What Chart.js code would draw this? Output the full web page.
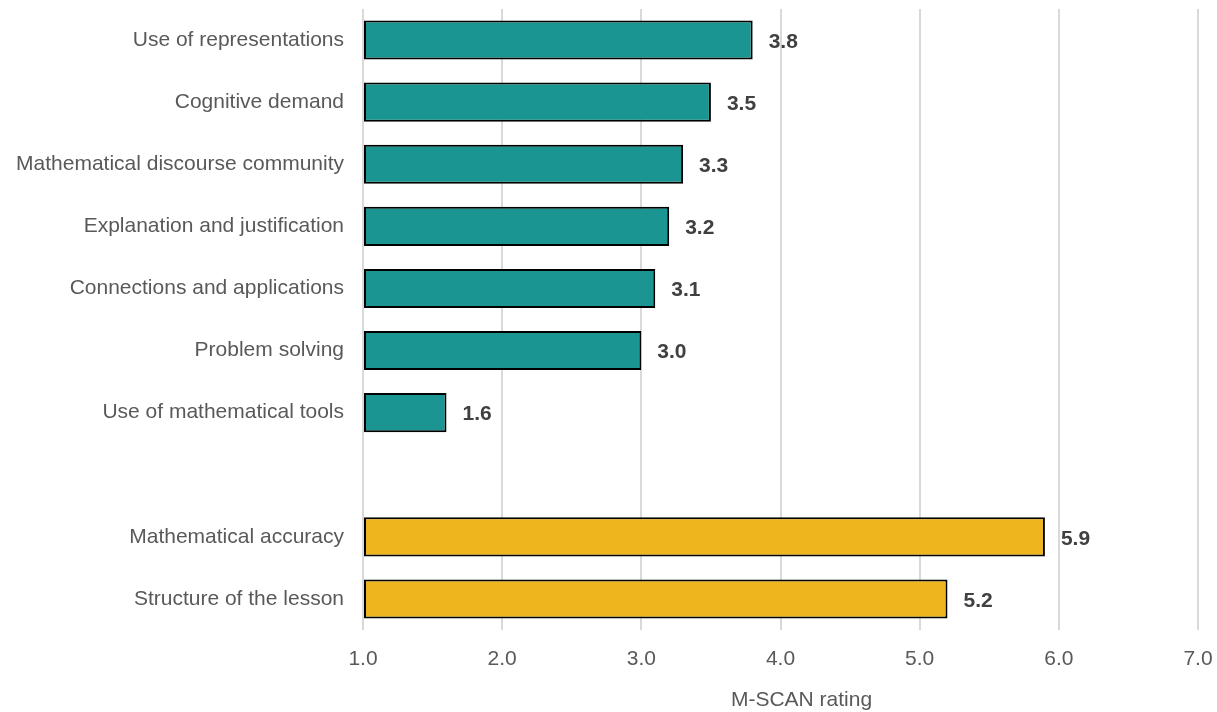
<!DOCTYPE html>
<html>
<head>
<meta charset="utf-8">
<script src="https://cdn.jsdelivr.net/npm/chart.js@4.4.1/dist/chart.umd.min.js"></script>
<style>
  html, body { margin: 0; padding: 0; background: #fff; }
  #wrap { width: 1217px; height: 712px; }
</style>
</head>
<body>
<div id="wrap"><canvas id="chart" width="1217" height="712"></canvas></div>
<script>
// rating dimensions, top to bottom; '' is the spacer row between the two groups
const categories = [
  'Use of representations',
  'Cognitive demand',
  'Mathematical discourse community',
  'Explanation and justification',
  'Connections and applications',
  'Problem solving',
  'Use of mathematical tools',
  '',
  'Mathematical accuracy',
  'Structure of the lesson'
];
const ratings = [3.8, 3.5, 3.3, 3.2, 3.1, 3.0, 1.6, null, 5.9, 5.2];
const groups  = ['a', 'a', 'a', 'a', 'a', 'a', 'a', null, 'b', 'b'];
const xTicks  = [1, 2, 3, 4, 5, 6, 7];

const groupColor = { a: '#1a9591', b: '#efb51e' };
const FONT = '"Liberation Sans", Arial, sans-serif';

// bold value printed just past the end of each bar
const valueLabels = {
  id: 'valueLabels',
  afterDatasetsDraw(chart) {
    const ctx = chart.ctx;
    const meta = chart.getDatasetMeta(0);
    ctx.save();
    ctx.font = 'bold 21px ' + FONT;
    ctx.fillStyle = '#404040';
    ctx.textAlign = 'left';
    ctx.textBaseline = 'middle';
    meta.data.forEach((bar, i) => {
      const v = ratings[i];
      if (v == null) return;
      ctx.fillText(v.toFixed(1), bar.x + 16, bar.y + 2);
    });
    ctx.restore();
  }
};

// axis title sits a little right of the plot centre
const axisTitle = {
  id: 'axisTitle',
  afterDraw(chart) {
    const ctx = chart.ctx;
    const a = chart.chartArea;
    ctx.save();
    ctx.font = '21px ' + FONT;
    ctx.fillStyle = '#595959';
    ctx.textAlign = 'center';
    ctx.textBaseline = 'middle';
    ctx.fillText('M-SCAN rating', (a.left + a.right) / 2 + 21, 700);
    ctx.restore();
  }
};

new Chart(document.getElementById('chart'), {
  type: 'bar',
  data: {
    labels: categories,
    datasets: [{
      data: ratings,
      base: 1,
      backgroundColor: groups.map(g => groupColor[g] || 'transparent'),
      borderColor: '#000',
      borderWidth: 2,
      borderSkipped: false,
      barPercentage: 0.63,
      categoryPercentage: 1
    }]
  },
  options: {
    indexAxis: 'y',
    responsive: false,
    animation: false,
    layout: { padding: { top: 9, right: 19, left: 0, bottom: 0 } },
    plugins: {
      legend: { display: false },
      tooltip: { enabled: false }
    },
    scales: {
      x: {
        min: 1,
        max: 7,
        afterBuildTicks(s) { s.ticks = xTicks.map(v => ({ value: v })); },
        afterFit(s) { s.height = 82; s.paddingLeft = 0; s.paddingRight = 0; },
        grid: { color: '#d9d9d9', lineWidth: 2, drawTicks: false },
        border: { display: false },
        ticks: {
          padding: 17,
          color: '#595959',
          font: { family: FONT, size: 21 },
          callback: v => Number(v).toFixed(1)
        }
      },
      y: {
        afterFit(s) { s.width = 363; s.paddingTop = 0; s.paddingBottom = 0; },
        grid: { display: false, drawTicks: false },
        border: { display: false },
        ticks: {
          padding: 19,
          color: '#595959',
          font: { family: FONT, size: 21 }
        }
      }
    }
  },
  plugins: [valueLabels, axisTitle]
});
</script>
</body>
</html>
